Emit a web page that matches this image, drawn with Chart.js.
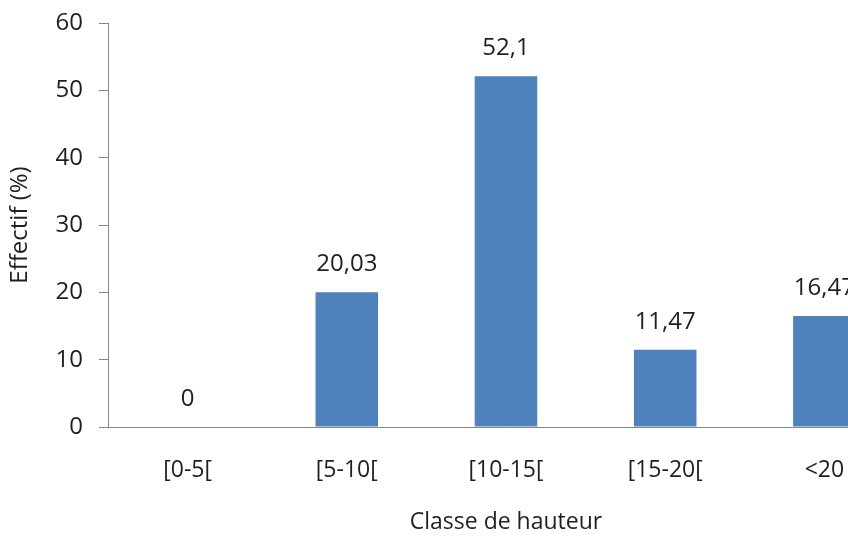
<!DOCTYPE html>
<html>
<head>
<meta charset="utf-8">
<script src="https://cdn.jsdelivr.net/npm/chart.js@4/dist/chart.umd.min.js"></script>
<style>
  html, body { margin: 0; padding: 0; background: #ffffff; overflow: hidden; }
  #wrap { width: 910px; height: 536px; }
</style>
</head>
<body>
<div id="wrap"><canvas id="c" width="910" height="536"></canvas></div>
<script>
// Height classes and share of stems per class (%)
const categories = ['[0-5[', '[5-10[', '[10-15[', '[15-20[', '<20'];
const effectif = [0, 20.03, 52.1, 11.47, 16.47];
const yTicks = [0, 10, 20, 30, 40, 50, 60];

const FONT = "'Open Sans', 'DejaVu Sans', sans-serif";
const TEXT = '#1f1f1f';
const AXIS = '#868686';

// Writes each bar's value above it, French decimal comma
const valueLabels = {
  id: 'valueLabels',
  afterDatasetsDraw(chart) {
    const ctx = chart.ctx;
    const meta = chart.getDatasetMeta(0);
    ctx.save();
    ctx.font = '24px ' + FONT;
    ctx.fillStyle = TEXT;
    ctx.textAlign = 'center';
    ctx.textBaseline = 'middle';
    meta.data.forEach((bar, i) => {
      const txt = String(effectif[i]).replace('.', ',');
      ctx.fillText(txt, bar.x, bar.y - 28);
    });
    ctx.restore();
  }
};

new Chart(document.getElementById('c'), {
  type: 'bar',
  data: {
    labels: categories,
    datasets: [{
      data: effectif,
      backgroundColor: '#4F81BD',
      borderWidth: 0,
      categoryPercentage: 1,
      barPercentage: 0.393
    }]
  },
  options: {
    responsive: false,
    animation: false,
    devicePixelRatio: 1,
    layout: { padding: { top: 23, right: 6, bottom: 0, left: 0 } },
    plugins: { legend: { display: false }, tooltip: { enabled: false } },
    scales: {
      x: {
        offset: true,
        grid: { display: true, drawOnChartArea: false, drawTicks: false, color: AXIS },
        border: { display: true, color: AXIS, width: 1 },
        ticks: { color: TEXT, font: { family: FONT, size: 23 }, padding: 30, maxRotation: 0 },
        title: {
          display: true, text: 'Classe de hauteur', color: TEXT,
          font: { family: FONT, size: 23 }, padding: { top: 0, bottom: 0 }
        },
        afterFit(scale) {
          scale.height = 109;
          scale.paddingLeft = 0; scale.paddingRight = 0;
        }
      },
      y: {
        min: 0, max: 60,
        afterBuildTicks(scale) { scale.ticks = yTicks.map(v => ({ value: v })); },
        grid: { display: true, drawOnChartArea: false, drawTicks: true, tickLength: 9, color: AXIS },
        border: { display: true, color: AXIS, width: 1 },
        ticks: { color: TEXT, font: { family: FONT, size: 24 }, padding: 16 },
        title: {
          display: true, text: 'Effectif (%)', color: TEXT,
          font: { family: FONT, size: 24 }, padding: { top: 6, bottom: 0 }
        },
        afterFit(scale) {
          scale.width = 108;
          scale.paddingTop = 0; scale.paddingBottom = 0;
        }
      }
    }
  },
  plugins: [valueLabels]
});
</script>
</body>
</html>
